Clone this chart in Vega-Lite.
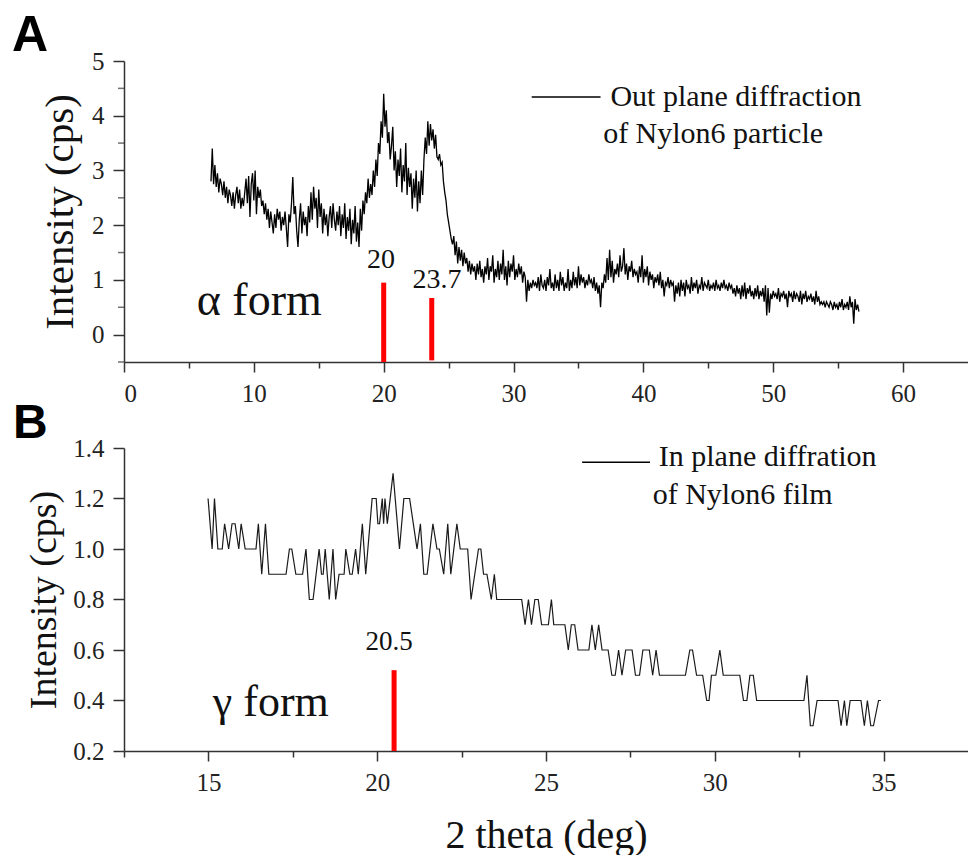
{
  "$schema": "https://vega.github.io/schema/vega-lite/v6.json",
  "padding": {"left": 12, "top": 11, "right": 0, "bottom": 0},
  "background": "white",
  "spacing": -6,
  "datasets": {
    "a": [
{"x":6.7,"y":2.8},{"x":6.8,"y":3.4},{"x":6.9,"y":2.75},{"x":7.0,"y":3.1},{"x":7.1,"y":2.7},{"x":7.2,"y":2.95},{"x":7.3,"y":2.6},{"x":7.4,"y":2.85},{"x":7.5,"y":2.75},{"x":7.6,"y":2.55},
{"x":7.7,"y":2.8},{"x":7.8,"y":2.5},{"x":7.9,"y":2.7},{"x":8.0,"y":2.4},{"x":8.1,"y":2.65},{"x":8.2,"y":2.55},{"x":8.3,"y":2.35},{"x":8.4,"y":2.6},{"x":8.5,"y":2.3},{"x":8.6,"y":2.55},
{"x":8.7,"y":2.7},{"x":8.8,"y":2.4},{"x":8.9,"y":2.65},{"x":9.0,"y":2.3},{"x":9.1,"y":2.5},{"x":9.2,"y":2.35},{"x":9.3,"y":2.6},{"x":9.4,"y":2.85},{"x":9.5,"y":2.4},{"x":9.6,"y":2.9},
{"x":9.7,"y":2.15},{"x":9.8,"y":2.75},{"x":9.9,"y":2.95},{"x":10.0,"y":2.45},{"x":10.1,"y":3.0},{"x":10.2,"y":2.2},{"x":10.3,"y":2.7},{"x":10.4,"y":2.5},{"x":10.5,"y":2.65},{"x":10.6,"y":2.35},
{"x":10.7,"y":2.45},{"x":10.8,"y":2.2},{"x":10.9,"y":2.4},{"x":11.0,"y":2.1},{"x":11.1,"y":2.3},{"x":11.2,"y":1.95},{"x":11.3,"y":2.25},{"x":11.4,"y":2.05},{"x":11.5,"y":1.85},{"x":11.6,"y":2.2},
{"x":11.7,"y":1.95},{"x":11.8,"y":2.3},{"x":11.9,"y":2.1},{"x":12.0,"y":2.25},{"x":12.1,"y":1.9},{"x":12.2,"y":2.15},{"x":12.3,"y":2.0},{"x":12.4,"y":2.25},{"x":12.5,"y":1.95},{"x":12.6,"y":1.6},
{"x":12.7,"y":2.2},{"x":12.8,"y":2.05},{"x":12.9,"y":2.4},{"x":13.0,"y":2.88},{"x":13.1,"y":2.2},{"x":13.2,"y":2.35},{"x":13.3,"y":1.9},{"x":13.4,"y":1.6},{"x":13.5,"y":2.1},{"x":13.6,"y":2.4},
{"x":13.7,"y":1.85},{"x":13.8,"y":2.25},{"x":13.9,"y":2.0},{"x":14.0,"y":2.15},{"x":14.1,"y":1.8},{"x":14.2,"y":2.35},{"x":14.3,"y":2.05},{"x":14.4,"y":2.6},{"x":14.5,"y":2.1},{"x":14.6,"y":2.7},
{"x":14.7,"y":2.3},{"x":14.8,"y":2.5},{"x":14.9,"y":1.95},{"x":15.0,"y":2.65},{"x":15.1,"y":2.15},{"x":15.2,"y":2.4},{"x":15.3,"y":1.85},{"x":15.4,"y":2.3},{"x":15.5,"y":2.0},{"x":15.6,"y":2.2},
{"x":15.7,"y":1.8},{"x":15.8,"y":2.15},{"x":15.9,"y":2.35},{"x":16.0,"y":1.95},{"x":16.1,"y":2.4},{"x":16.2,"y":2.1},{"x":16.3,"y":1.9},{"x":16.4,"y":2.25},{"x":16.5,"y":2.0},{"x":16.6,"y":2.35},
{"x":16.7,"y":1.8},{"x":16.8,"y":2.2},{"x":16.9,"y":1.95},{"x":17.0,"y":2.4},{"x":17.1,"y":1.75},{"x":17.2,"y":2.15},{"x":17.3,"y":1.9},{"x":17.4,"y":2.3},{"x":17.5,"y":1.65},{"x":17.6,"y":2.1},
{"x":17.7,"y":1.85},{"x":17.8,"y":2.35},{"x":17.9,"y":1.7},{"x":18.0,"y":2.05},{"x":18.1,"y":1.6},{"x":18.2,"y":2.3},{"x":18.3,"y":1.9},{"x":18.4,"y":2.45},{"x":18.5,"y":2.2},{"x":18.6,"y":2.6},
{"x":18.7,"y":2.4},{"x":18.8,"y":2.85},{"x":18.9,"y":2.5},{"x":19.0,"y":2.75},{"x":19.1,"y":2.55},{"x":19.2,"y":3.0},{"x":19.3,"y":2.7},{"x":19.4,"y":3.2},{"x":19.5,"y":2.9},{"x":19.6,"y":3.5},
{"x":19.7,"y":3.3},{"x":19.8,"y":3.9},{"x":19.9,"y":3.6},{"x":20.0,"y":4.4},{"x":20.1,"y":3.8},{"x":20.2,"y":4.1},{"x":20.3,"y":3.5},{"x":20.4,"y":3.7},{"x":20.5,"y":3.2},{"x":20.6,"y":3.45},
{"x":20.7,"y":3.8},{"x":20.8,"y":3.0},{"x":20.9,"y":3.35},{"x":21.0,"y":2.7},{"x":21.1,"y":3.2},{"x":21.2,"y":2.9},{"x":21.3,"y":3.4},{"x":21.4,"y":2.6},{"x":21.5,"y":3.1},{"x":21.6,"y":2.8},
{"x":21.7,"y":3.5},{"x":21.8,"y":2.55},{"x":21.9,"y":3.05},{"x":22.0,"y":2.7},{"x":22.1,"y":2.95},{"x":22.2,"y":2.3},{"x":22.3,"y":2.85},{"x":22.4,"y":2.5},{"x":22.5,"y":3.0},{"x":22.6,"y":2.25},
{"x":22.7,"y":2.8},{"x":22.8,"y":2.4},{"x":22.9,"y":3.0},{"x":23.0,"y":2.55},{"x":23.1,"y":3.2},{"x":23.2,"y":3.6},{"x":23.3,"y":3.3},{"x":23.4,"y":3.9},{"x":23.5,"y":3.45},{"x":23.6,"y":3.85},
{"x":23.7,"y":3.55},{"x":23.8,"y":3.75},{"x":23.9,"y":3.4},{"x":24.0,"y":3.65},{"x":24.1,"y":3.25},{"x":24.2,"y":3.2},{"x":24.3,"y":3.3},{"x":24.4,"y":3.1},{"x":24.5,"y":3.15},{"x":24.6,"y":2.8},
{"x":24.7,"y":2.6},{"x":24.8,"y":2.45},{"x":24.9,"y":2.2},{"x":25.0,"y":2.05},{"x":25.1,"y":1.9},{"x":25.2,"y":1.75},{"x":25.3,"y":1.65},{"x":25.4,"y":1.8},{"x":25.5,"y":1.45},{"x":25.6,"y":1.7},
{"x":25.7,"y":1.3},{"x":25.8,"y":1.6},{"x":25.9,"y":1.35},{"x":26.0,"y":1.55},{"x":26.1,"y":1.25},{"x":26.2,"y":1.5},{"x":26.3,"y":1.3},{"x":26.4,"y":1.4},{"x":26.5,"y":1.15},{"x":26.6,"y":1.35},
{"x":26.7,"y":1.1},{"x":26.8,"y":1.3},{"x":26.9,"y":1.15},{"x":27.0,"y":1.25},{"x":27.1,"y":1.0},{"x":27.2,"y":1.3},{"x":27.3,"y":1.1},{"x":27.4,"y":1.35},{"x":27.5,"y":1.05},{"x":27.6,"y":1.2},
{"x":27.7,"y":0.95},{"x":27.8,"y":1.25},{"x":27.9,"y":1.1},{"x":28.0,"y":1.4},{"x":28.1,"y":1.0},{"x":28.2,"y":1.25},{"x":28.3,"y":1.15},{"x":28.4,"y":1.45},{"x":28.5,"y":0.95},{"x":28.6,"y":1.2},
{"x":28.7,"y":1.05},{"x":28.8,"y":1.35},{"x":28.9,"y":1.0},{"x":29.0,"y":1.3},{"x":29.1,"y":1.1},{"x":29.2,"y":1.55},{"x":29.3,"y":1.0},{"x":29.4,"y":1.25},{"x":29.5,"y":0.9},{"x":29.6,"y":1.35},
{"x":29.7,"y":1.05},{"x":29.8,"y":1.3},{"x":29.9,"y":1.15},{"x":30.0,"y":1.45},{"x":30.1,"y":1.0},{"x":30.2,"y":1.2},{"x":30.3,"y":1.05},{"x":30.4,"y":1.3},{"x":30.5,"y":1.1},{"x":30.6,"y":1.25},
{"x":30.7,"y":0.95},{"x":30.8,"y":1.15},{"x":30.9,"y":1.05},{"x":31.0,"y":0.6},{"x":31.1,"y":1.0},{"x":31.2,"y":0.8},{"x":31.3,"y":0.95},{"x":31.4,"y":0.85},{"x":31.5,"y":1.0},{"x":31.6,"y":0.9},
{"x":31.7,"y":0.95},{"x":31.8,"y":0.85},{"x":31.9,"y":1.05},{"x":32.0,"y":0.8},{"x":32.1,"y":1.1},{"x":32.2,"y":0.9},{"x":32.3,"y":0.85},{"x":32.4,"y":1.0},{"x":32.5,"y":0.8},{"x":32.6,"y":1.05},
{"x":32.7,"y":0.9},{"x":32.8,"y":1.2},{"x":32.9,"y":0.85},{"x":33.0,"y":0.95},{"x":33.1,"y":0.8},{"x":33.2,"y":1.1},{"x":33.3,"y":0.85},{"x":33.4,"y":1.0},{"x":33.5,"y":0.8},{"x":33.6,"y":1.15},
{"x":33.7,"y":0.9},{"x":33.8,"y":1.05},{"x":33.9,"y":0.8},{"x":34.0,"y":0.95},{"x":34.1,"y":0.85},{"x":34.2,"y":1.2},{"x":34.3,"y":0.8},{"x":34.4,"y":1.0},{"x":34.5,"y":0.85},{"x":34.6,"y":1.15},
{"x":34.7,"y":0.9},{"x":34.8,"y":1.05},{"x":34.9,"y":0.85},{"x":35.0,"y":1.25},{"x":35.1,"y":0.9},{"x":35.2,"y":1.1},{"x":35.3,"y":0.95},{"x":35.4,"y":1.05},{"x":35.5,"y":0.85},{"x":35.6,"y":1.0},
{"x":35.7,"y":0.9},{"x":35.8,"y":1.1},{"x":35.9,"y":0.95},{"x":36.0,"y":1.0},{"x":36.1,"y":0.85},{"x":36.2,"y":1.05},{"x":36.3,"y":0.8},{"x":36.4,"y":0.95},{"x":36.5,"y":0.75},{"x":36.6,"y":0.9},
{"x":36.7,"y":0.5},{"x":36.8,"y":0.95},{"x":36.9,"y":0.85},{"x":37.0,"y":1.1},{"x":37.1,"y":0.95},{"x":37.2,"y":1.4},{"x":37.3,"y":1.0},{"x":37.4,"y":1.55},{"x":37.5,"y":1.05},{"x":37.6,"y":1.35},
{"x":37.7,"y":0.95},{"x":37.8,"y":1.2},{"x":37.9,"y":1.1},{"x":38.0,"y":1.3},{"x":38.1,"y":1.05},{"x":38.2,"y":1.45},{"x":38.3,"y":1.15},{"x":38.4,"y":1.25},{"x":38.5,"y":1.58},{"x":38.6,"y":1.1},
{"x":38.7,"y":1.3},{"x":38.8,"y":1.0},{"x":38.9,"y":1.25},{"x":39.0,"y":1.15},{"x":39.1,"y":1.35},{"x":39.2,"y":1.05},{"x":39.3,"y":1.2},{"x":39.4,"y":1.1},{"x":39.5,"y":1.15},{"x":39.6,"y":0.95},
{"x":39.7,"y":1.25},{"x":39.8,"y":1.05},{"x":39.9,"y":1.45},{"x":40.0,"y":0.95},{"x":40.1,"y":1.2},{"x":40.2,"y":1.05},{"x":40.3,"y":1.25},{"x":40.4,"y":0.9},{"x":40.5,"y":1.15},{"x":40.6,"y":1.0},
{"x":40.7,"y":1.1},{"x":40.8,"y":0.85},{"x":40.9,"y":1.05},{"x":41.0,"y":0.95},{"x":41.1,"y":1.1},{"x":41.2,"y":0.9},{"x":41.3,"y":1.15},{"x":41.4,"y":0.85},{"x":41.5,"y":1.0},{"x":41.6,"y":0.7},
{"x":41.7,"y":0.95},{"x":41.8,"y":0.9},{"x":41.9,"y":1.05},{"x":42.0,"y":0.85},{"x":42.1,"y":1.0},{"x":42.2,"y":0.9},{"x":42.3,"y":0.95},{"x":42.4,"y":0.6},{"x":42.5,"y":0.9},{"x":42.6,"y":0.75},
{"x":42.7,"y":0.95},{"x":42.8,"y":0.7},{"x":42.9,"y":1.0},{"x":43.0,"y":0.8},{"x":43.1,"y":0.95},{"x":43.2,"y":0.7},{"x":43.3,"y":1.0},{"x":43.4,"y":0.85},{"x":43.5,"y":0.9},{"x":43.6,"y":0.75},
{"x":43.7,"y":1.05},{"x":43.8,"y":0.8},{"x":43.9,"y":0.95},{"x":44.0,"y":0.85},{"x":44.1,"y":1.0},{"x":44.2,"y":0.75},{"x":44.3,"y":0.9},{"x":44.4,"y":0.85},{"x":44.5,"y":1.05},{"x":44.6,"y":0.8},
{"x":44.7,"y":0.95},{"x":44.8,"y":0.9},{"x":44.9,"y":0.85},{"x":45.0,"y":1.0},{"x":45.1,"y":0.8},{"x":45.2,"y":0.9},{"x":45.3,"y":0.85},{"x":45.4,"y":0.95},{"x":45.5,"y":0.8},{"x":45.6,"y":1.0},
{"x":45.7,"y":0.85},{"x":45.8,"y":0.9},{"x":45.9,"y":0.8},{"x":46.0,"y":0.95},{"x":46.1,"y":0.85},{"x":46.2,"y":1.0},{"x":46.3,"y":0.85},{"x":46.4,"y":0.9},{"x":46.5,"y":0.8},{"x":46.6,"y":0.95},
{"x":46.7,"y":0.85},{"x":46.8,"y":0.9},{"x":46.9,"y":0.75},{"x":47.0,"y":0.85},{"x":47.1,"y":0.7},{"x":47.2,"y":0.9},{"x":47.3,"y":0.75},{"x":47.4,"y":0.85},{"x":47.5,"y":0.65},{"x":47.6,"y":0.9},
{"x":47.7,"y":0.7},{"x":47.8,"y":0.95},{"x":47.9,"y":0.65},{"x":48.0,"y":0.85},{"x":48.1,"y":0.75},{"x":48.2,"y":0.9},{"x":48.3,"y":0.7},{"x":48.4,"y":0.8},{"x":48.5,"y":0.65},{"x":48.6,"y":0.85},
{"x":48.7,"y":0.7},{"x":48.8,"y":0.9},{"x":48.9,"y":0.65},{"x":49.0,"y":0.8},{"x":49.1,"y":0.7},{"x":49.2,"y":0.85},{"x":49.3,"y":0.6},{"x":49.4,"y":0.9},{"x":49.5,"y":0.35},{"x":49.6,"y":0.85},
{"x":49.7,"y":0.4},{"x":49.8,"y":0.75},{"x":49.9,"y":0.65},{"x":50.0,"y":0.8},{"x":50.1,"y":0.7},{"x":50.2,"y":0.75},{"x":50.3,"y":0.65},{"x":50.4,"y":0.85},{"x":50.5,"y":0.6},{"x":50.6,"y":0.75},
{"x":50.7,"y":0.7},{"x":50.8,"y":0.8},{"x":50.9,"y":0.65},{"x":51.0,"y":0.75},{"x":51.1,"y":0.5},{"x":51.2,"y":0.8},{"x":51.3,"y":0.7},{"x":51.4,"y":0.75},{"x":51.5,"y":0.6},{"x":51.6,"y":0.8},
{"x":51.7,"y":0.65},{"x":51.8,"y":0.75},{"x":51.9,"y":0.7},{"x":52.0,"y":0.6},{"x":52.1,"y":0.8},{"x":52.2,"y":0.55},{"x":52.3,"y":0.75},{"x":52.4,"y":0.65},{"x":52.5,"y":0.8},{"x":52.6,"y":0.6},
{"x":52.7,"y":0.7},{"x":52.8,"y":0.65},{"x":52.9,"y":0.75},{"x":53.0,"y":0.6},{"x":53.1,"y":0.7},{"x":53.2,"y":0.55},{"x":53.3,"y":0.8},{"x":53.4,"y":0.6},{"x":53.5,"y":0.7},{"x":53.6,"y":0.55},
{"x":53.7,"y":0.6},{"x":53.8,"y":0.55},{"x":53.9,"y":0.6},{"x":54.0,"y":0.5},{"x":54.1,"y":0.6},{"x":54.2,"y":0.55},{"x":54.3,"y":0.5},{"x":54.4,"y":0.6},{"x":54.5,"y":0.55},{"x":54.6,"y":0.45},
{"x":54.7,"y":0.6},{"x":54.8,"y":0.5},{"x":54.9,"y":0.55},{"x":55.0,"y":0.45},{"x":55.1,"y":0.6},{"x":55.2,"y":0.5},{"x":55.3,"y":0.65},{"x":55.4,"y":0.45},{"x":55.5,"y":0.55},{"x":55.6,"y":0.5},
{"x":55.7,"y":0.6},{"x":55.8,"y":0.45},{"x":55.9,"y":0.7},{"x":56.0,"y":0.5},{"x":56.1,"y":0.6},{"x":56.2,"y":0.2},{"x":56.3,"y":0.65},{"x":56.4,"y":0.45},{"x":56.5,"y":0.55},{"x":56.6,"y":0.42}
    ],
    "b": [
{"x":14.99,"y":1.2},{"x":15.11,"y":1.0},{"x":15.18,"y":1.2},{"x":15.28,"y":1.0},{"x":15.41,"y":1.0},{"x":15.48,"y":1.1},{"x":15.6,"y":1.0},{"x":15.7,"y":1.1},{"x":15.79,"y":1.1},{"x":15.9,"y":1.0},
{"x":15.97,"y":1.1},{"x":16.09,"y":1.0},{"x":16.41,"y":1.0},{"x":16.48,"y":1.1},{"x":16.58,"y":0.9},{"x":16.69,"y":1.1},{"x":16.79,"y":0.9},{"x":17.3,"y":0.9},{"x":17.4,"y":1.0},{"x":17.47,"y":1.0},
{"x":17.59,"y":0.9},{"x":17.79,"y":0.9},{"x":17.89,"y":1.0},{"x":17.99,"y":0.8},{"x":18.1,"y":0.8},{"x":18.28,"y":1.0},{"x":18.35,"y":0.9},{"x":18.4,"y":0.9},{"x":18.46,"y":1.0},{"x":18.58,"y":0.8},
{"x":18.69,"y":1.0},{"x":18.77,"y":0.8},{"x":18.87,"y":0.9},{"x":19.02,"y":0.9},{"x":19.07,"y":1.0},{"x":19.19,"y":0.9},{"x":19.26,"y":0.9},{"x":19.36,"y":1.0},{"x":19.44,"y":0.9},{"x":19.56,"y":1.1},
{"x":19.66,"y":0.9},{"x":19.85,"y":1.2},{"x":19.97,"y":1.2},{"x":20.02,"y":1.1},{"x":20.07,"y":1.1},{"x":20.15,"y":1.2},{"x":20.19,"y":1.1},{"x":20.23,"y":1.2},{"x":20.3,"y":1.1},{"x":20.47,"y":1.3},
{"x":20.66,"y":1.0},{"x":20.79,"y":1.2},{"x":20.96,"y":1.2},{"x":21.18,"y":1.0},{"x":21.28,"y":1.1},{"x":21.38,"y":0.9},{"x":21.48,"y":0.9},{"x":21.65,"y":1.1},{"x":21.77,"y":1.0},{"x":21.84,"y":1.0},
{"x":21.97,"y":0.9},{"x":22.09,"y":1.1},{"x":22.18,"y":0.9},{"x":22.36,"y":1.1},{"x":22.46,"y":1.0},{"x":22.68,"y":1.0},{"x":22.78,"y":0.8},{"x":23.0,"y":1.0},{"x":23.07,"y":1.0},{"x":23.15,"y":0.9},
{"x":23.25,"y":0.9},{"x":23.38,"y":0.8},{"x":23.47,"y":0.9},{"x":23.54,"y":0.8},{"x":24.28,"y":0.8},{"x":24.38,"y":0.7},{"x":24.48,"y":0.8},{"x":24.57,"y":0.7},{"x":24.67,"y":0.8},{"x":24.77,"y":0.8},
{"x":24.87,"y":0.7},{"x":25.07,"y":0.7},{"x":25.16,"y":0.8},{"x":25.23,"y":0.7},{"x":25.56,"y":0.7},{"x":25.66,"y":0.6},{"x":25.75,"y":0.7},{"x":25.85,"y":0.7},{"x":25.95,"y":0.6},{"x":26.27,"y":0.6},
{"x":26.36,"y":0.7},{"x":26.46,"y":0.6},{"x":26.56,"y":0.7},{"x":26.66,"y":0.6},{"x":26.84,"y":0.6},{"x":26.95,"y":0.5},{"x":27.05,"y":0.5},{"x":27.15,"y":0.6},{"x":27.25,"y":0.5},{"x":27.36,"y":0.6},
{"x":27.55,"y":0.6},{"x":27.65,"y":0.5},{"x":27.77,"y":0.5},{"x":27.87,"y":0.6},{"x":28.06,"y":0.6},{"x":28.16,"y":0.5},{"x":28.26,"y":0.6},{"x":28.36,"y":0.5},{"x":29.13,"y":0.5},{"x":29.26,"y":0.6},
{"x":29.34,"y":0.6},{"x":29.46,"y":0.5},{"x":29.64,"y":0.5},{"x":29.76,"y":0.4},{"x":29.83,"y":0.4},{"x":29.9,"y":0.5},{"x":30.03,"y":0.5},{"x":30.15,"y":0.6},{"x":30.25,"y":0.5},{"x":30.74,"y":0.5},
{"x":30.85,"y":0.4},{"x":30.95,"y":0.4},{"x":31.04,"y":0.5},{"x":31.14,"y":0.5},{"x":31.24,"y":0.4},{"x":32.64,"y":0.4},{"x":32.73,"y":0.5},{"x":32.83,"y":0.3},{"x":32.91,"y":0.3},{"x":33.03,"y":0.4},
{"x":33.65,"y":0.4},{"x":33.74,"y":0.3},{"x":33.84,"y":0.4},{"x":33.91,"y":0.3},{"x":34.01,"y":0.4},{"x":34.33,"y":0.4},{"x":34.43,"y":0.3},{"x":34.52,"y":0.4},{"x":34.62,"y":0.3},{"x":34.7,"y":0.3},
{"x":34.85,"y":0.4},{"x":34.92,"y":0.4}
    ]
  },
  "vconcat": [
    {
      "width": 844,
      "height": 301,
      "title": {"text": "A", "anchor": "start", "frame": "group", "dx": -112, "offset": -12, "font": "Liberation Sans", "fontSize": 50, "fontWeight": "bold", "color": "#000"},
      "layer": [
        {
          "data": {"name": "a"},
          "mark": {"type": "line", "color": "#000", "strokeWidth": 1.3},
          "encoding": {
            "x": {"field": "x", "type": "quantitative", "scale": {"domain": [0, 65], "nice": false, "zero": false},
              "axis": {"title": null, "values": [0,5,10,15,20,25,30,35,40,45,50,55,60], "labelOverlap": false, "labelFontSize": 25, "labelPadding": 9,
                "labelExpr": "datum.value % 10 === 0 ? format(datum.value, 'd') : ''",
                "tickSize": {"condition": {"test": "datum.value % 10 === 0", "value": 10}, "value": 6}}},
            "y": {"field": "y", "type": "quantitative", "scale": {"domain": [-0.5, 5], "nice": false, "zero": false},
              "axis": {"title": "Intensity (cps)", "titleFontSize": 41, "titlePadding": 10, "values": [0,1,2,3,4,5], "format": "d", "labelOverlap": false, "labelFontSize": 25, "labelPadding": 9, "tickSize": 11}}
          }
        },
        {
          "data": {"values": [{"m": -0.5}, {"m": 0.5}, {"m": 1.5}, {"m": 2.5}, {"m": 3.5}, {"m": 4.5}]},
          "mark": {"type": "tick", "orient": "horizontal", "color": "#333", "size": 6, "thickness": 1.5, "xOffset": -3},
          "encoding": {
            "x": {"datum": 0, "type": "quantitative"},
            "y": {"field": "m", "type": "quantitative"}
          }
        },
        {
          "data": {"values": [{"x": 20, "y": -0.5, "y2": 0.95}, {"x": 23.7, "y": -0.47, "y2": 0.67}]},
          "mark": {"type": "rule", "color": "#ff0000", "strokeWidth": 5},
          "encoding": {
            "x": {"field": "x", "type": "quantitative"},
            "y": {"field": "y", "type": "quantitative"},
            "y2": {"field": "y2"}
          }
        },
        {
          "data": {"values": [{"x": 19.8, "y": 1.21, "t": "20"}, {"x": 24.1, "y": 0.85, "t": "23.7"}]},
          "mark": {"type": "text", "font": "Liberation Serif", "fontSize": 28, "align": "center", "baseline": "alphabetic", "color": "#111"},
          "encoding": {
            "x": {"field": "x", "type": "quantitative"},
            "y": {"field": "y", "type": "quantitative"},
            "text": {"field": "t"}
          }
        },
        {
          "data": {"values": [{"x": 5.6, "y": 0.36, "t": "α form"}, {"x": 37.46, "y": 4.18, "t": "Out plane diffraction"}, {"x": 36.9, "y": 3.5, "t": "of Nylon6 particle"}]},
          "mark": {"type": "text", "font": "Liberation Serif", "align": "left", "baseline": "alphabetic", "color": "#111"},
          "encoding": {
            "x": {"field": "x", "type": "quantitative"},
            "y": {"field": "y", "type": "quantitative"},
            "text": {"field": "t"},
            "size": {"condition": {"test": "datum.t === 'α form'", "value": 46}, "value": 30}
          }
        },
        {
          "data": {"values": [{"x": 31.4, "x2": 36.7, "y": 4.34}]},
          "mark": {"type": "rule", "color": "#000", "strokeWidth": 1.5},
          "encoding": {
            "x": {"field": "x", "type": "quantitative"},
            "x2": {"field": "x2"},
            "y": {"field": "y", "type": "quantitative"}
          }
        }
      ]
    },
    {
      "width": 844,
      "height": 303,
      "title": {"text": "B", "anchor": "start", "frame": "group", "dx": -111, "offset": -12, "font": "Liberation Sans", "fontSize": 48, "fontWeight": "bold", "color": "#000"},
      "layer": [
        {
          "data": {"name": "b"},
          "mark": {"type": "line", "color": "#1a1a1a", "strokeWidth": 1.2},
          "encoding": {
            "x": {"field": "x", "type": "quantitative", "scale": {"domain": [12.5, 37.5], "nice": false, "zero": false},
              "axis": {"title": "2 theta (deg)", "titleFontSize": 40, "titlePadding": 20, "values": [12.5,15,17.5,20,22.5,25,27.5,30,32.5,35], "labelOverlap": false, "labelFontSize": 25, "labelPadding": 9,
                "labelExpr": "datum.value % 5 === 0 ? format(datum.value, 'd') : ''",
                "tickSize": {"condition": {"test": "datum.value % 5 === 0", "value": 10}, "value": 6}}},
            "y": {"field": "y", "type": "quantitative", "scale": {"domain": [0.2, 1.4], "nice": false, "zero": false},
              "axis": {"title": "Intensity (cps)", "titleFontSize": 38, "titlePadding": 9, "values": [0.2,0.3,0.4,0.5,0.6,0.7,0.8,0.9,1.0,1.1,1.2,1.3,1.4], "labelOverlap": false, "labelFontSize": 25, "labelPadding": 9,
                "labelExpr": "round(datum.value * 10) % 2 === 0 ? format(datum.value, '.1f') : ''",
                "tickSize": {"condition": {"test": "round(datum.value * 10) % 2 === 0", "value": 11}, "value": 6}}}
          }
        },
        {
          "data": {"values": [{"x": 20.5, "y": 0.2, "y2": 0.52}]},
          "mark": {"type": "rule", "color": "#ff0000", "strokeWidth": 5},
          "encoding": {
            "x": {"field": "x", "type": "quantitative"},
            "y": {"field": "y", "type": "quantitative"},
            "y2": {"field": "y2"}
          }
        },
        {
          "data": {"values": [{"x": 20.35, "y": 0.6, "t": "20.5"}]},
          "mark": {"type": "text", "font": "Liberation Serif", "fontSize": 27, "align": "center", "baseline": "alphabetic", "color": "#111"},
          "encoding": {
            "x": {"field": "x", "type": "quantitative"},
            "y": {"field": "y", "type": "quantitative"},
            "text": {"field": "t"}
          }
        },
        {
          "data": {"values": [{"x": 15.13, "y": 0.34, "t": "γ form"}, {"x": 28.34, "y": 1.33, "t": "In plane diffration"}, {"x": 28.16, "y": 1.178, "t": "of Nylon6 film"}]},
          "mark": {"type": "text", "font": "Liberation Serif", "align": "left", "baseline": "alphabetic", "color": "#111"},
          "encoding": {
            "x": {"field": "x", "type": "quantitative"},
            "y": {"field": "y", "type": "quantitative"},
            "text": {"field": "t"},
            "size": {"condition": {"test": "datum.t === 'γ form'", "value": 44}, "value": 30}
          }
        },
        {
          "data": {"values": [{"x": 26.07, "x2": 28.08, "y": 1.344}]},
          "mark": {"type": "rule", "color": "#000", "strokeWidth": 1.5},
          "encoding": {
            "x": {"field": "x", "type": "quantitative"},
            "x2": {"field": "x2"},
            "y": {"field": "y", "type": "quantitative"}
          }
        }
      ]
    }
  ],
  "config": {
    "view": {"stroke": null},
    "font": "Liberation Serif",
    "axis": {
      "grid": false,
      "domainColor": "#333",
      "domainWidth": 1.5,
      "tickColor": "#333",
      "tickWidth": 1.5,
      "labelFont": "Liberation Serif",
      "labelColor": "#222",
      "titleFont": "Liberation Serif",
      "titleFontWeight": "normal",
      "titleColor": "#111"
    }
  }
}
